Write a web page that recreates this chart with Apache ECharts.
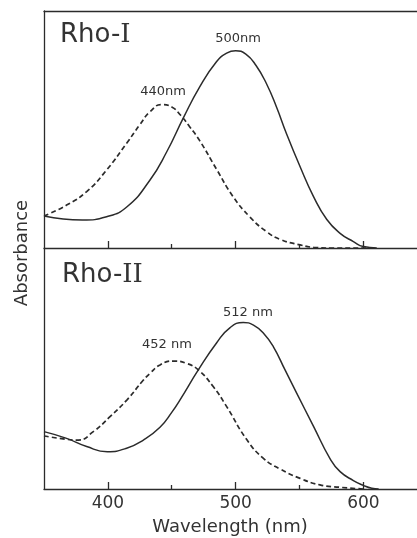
<!DOCTYPE html>
<html><head><meta charset="utf-8">
<script src="https://cdn.jsdelivr.net/npm/echarts@6/dist/echarts.min.js"></script>
<style>html,body{margin:0;padding:0;background:#fff}#c{width:417px;height:538px}</style>
</head><body><div id="c"></div>
<script>
// x ticks (nm)
const xMajorTicks = [400, 500, 600];
const xMinorTicks = [450, 550];
// Rho-I spectra: [wavelength nm, relative absorbance]
const rho1Dark = [[350,0.135],[365,0.122],[380,0.118],[399,0.132],[415,0.174],[433,0.287],[446,0.405],[459,0.548],[472,0.681],[485,0.786],[493,0.822],[500,0.832],[508,0.818],[516,0.770],[524,0.695],[532,0.595],[540,0.480],[550.5,0.343],[561,0.217],[571.4,0.120],[581.8,0.062],[592.2,0.027],[600,0.006],[610.5,0]];
const rho1Light = [[350,0.135],[367.7,0.181],[383.4,0.238],[399,0.329],[414.7,0.442],[425,0.520],[433,0.575],[442,0.605],[450,0.595],[457,0.560],[464,0.512],[472,0.452],[485,0.333],[498,0.217],[511,0.132],[524,0.070],[535,0.036],[550.5,0.013],[561,0.003],[575,0],[610,0]];
// Rho-II spectra
const rho2Dark = [[350,0.238],[367.7,0.210],[383.4,0.176],[399.6,0.155],[414.7,0.169],[427.8,0.203],[440.8,0.256],[450,0.318],[456.5,0.370],[470.8,0.494],[485.2,0.607],[495.7,0.670],[506,0.691],[514,0.680],[522,0.645],[529.6,0.590],[538.7,0.494],[547.9,0.397],[560.9,0.261],[574,0.125],[581.8,0.072],[592.2,0.035],[600,0.015],[606.6,0.003],[612,0]];
const rho2Light = [[350,0.220],[367.7,0.206],[376.9,0.203],[388.6,0.238],[401.7,0.300],[415,0.370],[427.8,0.452],[433,0.480],[440.8,0.515],[451.3,0.531],[461.7,0.521],[470.8,0.494],[482.6,0.424],[493,0.342],[508.7,0.205],[521.8,0.127],[534.8,0.083],[550.5,0.044],[566,0.017],[581.8,0.007],[600,0]];

const ink = '#2b2b2b';
const font = 'DejaVu Sans';
const chart = echarts.init(document.getElementById('c'), null, {renderer:'canvas'});

function xAx(grid, opts){
  return Object.assign({
    type:'value', gridIndex:grid, min:350, max:642, position:'bottom',
    axisLine:{show:true, onZero:false, lineStyle:{color:ink,width:1.3}},
    axisTick:{show:false}, axisLabel:{show:false}, splitLine:{show:false}
  }, opts);
}
function yAx(grid){
  return {type:'value', gridIndex:grid, min:0, max:1,
    axisLine:{show:true, lineStyle:{color:ink,width:1.3}},
    axisTick:{show:false}, axisLabel:{show:false}, splitLine:{show:false}};
}
function line(data, xi, yi, dashed){
  return {type:'line', data:data, xAxisIndex:xi, yAxisIndex:yi, smooth:0.5,
    showSymbol:false, symbol:'none', silent:true,
    lineStyle:{color:ink, width: dashed ? 1.7 : 1.5, type: dashed ? [5,3] : 'solid'}};
}

chart.setOption({
  backgroundColor:'#fff',
  animation:false,
  grid:[
    {left:44, right:0, top:11, height:237},
    {left:44, right:0, top:248, height:241}
  ],
  xAxis:[
    xAx(0, {axisTick:{show:true, inside:true, length:7, customValues:xMajorTicks, lineStyle:{color:ink,width:1.3}}}),
    xAx(0, {axisLine:{show:false}, axisTick:{show:true, inside:true, length:4, customValues:xMinorTicks, lineStyle:{color:ink,width:1.3}}}),
    xAx(0, {position:'top'}),
    xAx(1, {axisTick:{show:true, inside:true, length:7, customValues:xMajorTicks, lineStyle:{color:ink,width:1.3}},
      axisLabel:{show:true, customValues:xMajorTicks, margin:6, fontSize:17, fontFamily:font, color:'#333'}}),
    xAx(1, {axisLine:{show:false}, axisTick:{show:true, inside:true, length:4, customValues:xMinorTicks, lineStyle:{color:ink,width:1.3}}})
  ],
  yAxis:[yAx(0), yAx(1)],
  series:[
    line(rho1Light, 0, 0, true),
    line(rho1Dark, 0, 0, false),
    line(rho2Light, 3, 1, true),
    line(rho2Dark, 3, 1, false)
  ],
  graphic:[
    {type:'text', x:60, y:35, style:{text:'{a|Rho-}{b|I}', textVerticalAlign:'middle', rich:{a:{fontSize:26,fontFamily:font,fill:'#333'}, b:{fontSize:26,fontFamily:'DejaVu Serif',fill:'#333'}}}},
    {type:'text', x:62, y:275, style:{text:'{a|Rho-}{b|II}', textVerticalAlign:'middle', rich:{a:{fontSize:26,fontFamily:font,fill:'#333'}, b:{fontSize:26,fontFamily:'DejaVu Serif',fill:'#333'}}}},
    {type:'text', x:238, y:38.5, style:{text:'500nm', textAlign:'center', textVerticalAlign:'middle', fontSize:13, fontFamily:font, fill:'#333'}},
    {type:'text', x:163, y:92, style:{text:'440nm', textAlign:'center', textVerticalAlign:'middle', fontSize:13, fontFamily:font, fill:'#333'}},
    {type:'text', x:248, y:313, style:{text:'512 nm', textAlign:'center', textVerticalAlign:'middle', fontSize:13, fontFamily:font, fill:'#333'}},
    {type:'text', x:167, y:345, style:{text:'452 nm', textAlign:'center', textVerticalAlign:'middle', fontSize:13, fontFamily:font, fill:'#333'}},
    {type:'text', x:230, y:527, style:{text:'Wavelength (nm)', textAlign:'center', textVerticalAlign:'middle', fontSize:18, fontFamily:font, fill:'#333'}},
    {type:'text', x:22, y:253, rotation:Math.PI/2, style:{text:'Absorbance', textAlign:'center', textVerticalAlign:'middle', fontSize:18, fontFamily:font, fill:'#333'}}
  ]
});
</script></body></html>
